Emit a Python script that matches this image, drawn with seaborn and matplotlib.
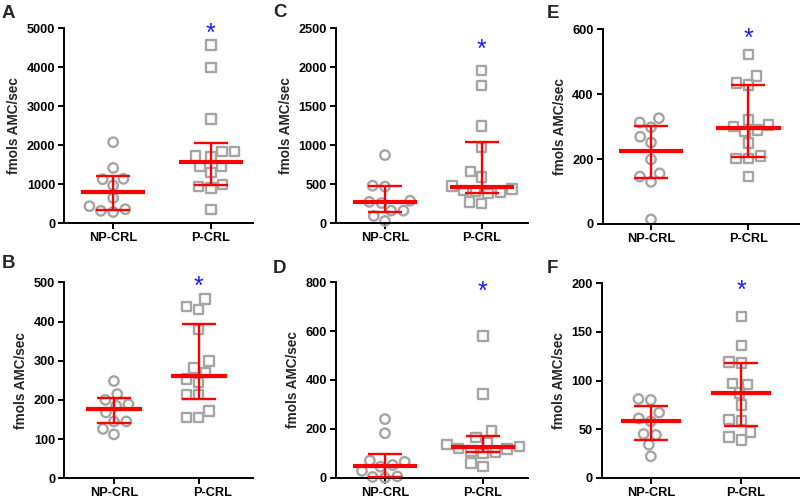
import numpy as np
import pandas as pd
import matplotlib
matplotlib.use('Agg')
import matplotlib.pyplot as plt
from matplotlib.transforms import Bbox, TransformedBbox, ScaledTranslation
import seaborn as sns

groups = ['NP-CRL', 'P-CRL']

A_np = [2080, 1420, 1130, 970, 1140, 650, 360, 290, 320, 440]
A_p = [4570, 3990, 2670, 1840, 1840, 1710, 1730, 1300, 1450, 1450, 940, 900, 1000, 360]
B_np = [248, 215, 200, 185, 189, 168, 145, 145, 126, 112]
B_p = [457, 431, 438, 380, 299, 270, 281, 253, 245, 214, 214, 172, 155, 155]
C_np = [875, 470, 482, 260, 275, 290, 162, 162, 94, 30]
C_p = [1960, 1770, 1250, 975, 665, 595, 480, 440, 420, 405, 395, 385, 275, 255]
D_np = [240, 182, 70, 65, 52, 45, 28, 5, 3, 0]
D_p = [580, 343, 191, 165, 145, 135, 128, 120, 118, 110, 105, 100, 60, 45]
E_np = [326, 298, 313, 269, 251, 199, 146, 130, 156, 14]
E_p = [523, 456, 435, 428, 320, 305, 300, 285, 290, 250, 202, 202, 210, 146]
F_np = [81, 80, 67, 61, 58, 45, 44, 34, 22]
F_p = [166, 136, 119, 118, 97, 96, 87, 75, 60, 59, 47, 39, 42]

panel_letters = ['A', 'B', 'C', 'D', 'E', 'F']
y_tops = [5000, 500, 2500, 800, 600, 200]
y_steps = [1000, 100, 500, 200, 200, 50]
star_y = [5000, 502, 2295, 782, 588, 198]
ylabel = 'fmols AMC/sec'

sns.set_style('ticks')
plt.rcParams['font.family'] = ['Liberation Sans', 'DejaVu Sans']

W, H = 800, 501
fig = plt.figure(figsize=(8, 5.01), dpi=100)

# layout in pixels: left, right, top, bottom ; xlim
geom = {
    'A': (64.3, 253, 28.3, 223.3, (-0.50, 1.43)),
    'B': (64.3, 253, 282.3, 478.3, (-0.585, 1.64)),
    'C': (336, 528, 28.3, 223.3, (-0.507, 1.48)),
    'D': (336, 528, 282.3, 477.7, (-0.50, 1.46)),
    'E': (602.7, 800, 29.3, 224, (-0.496, 1.53)),
    'F': (601.7, 800, 283.3, 477.7, (-0.543, 1.65)),
}
label_shift = {'B': 14, 'F': 4}
letter_pos = {'A': (2, 5), 'B': (2, 255), 'C': (273, 4), 'D': (273, 260), 'E': (547, 5), 'F': (547, 260)}

data = {'A': (A_np, A_p), 'B': (B_np, B_p), 'C': (C_np, C_p),
        'D': (D_np, D_p), 'E': (E_np, E_p), 'F': (F_np, F_p)}

gray = '#a5a5a5'
red = '#ff0000'
blue = '#1a1aff'

for k, letter in enumerate(panel_letters):
    l, r, t, b, xl = geom[letter]
    ax = fig.add_axes([l / W, 1 - b / H, (r - l) / W, (b - t) / H])
    npv, pv = data[letter]
    df = pd.DataFrame({'group': [groups[0]] * len(npv) + [groups[1]] * len(pv),
                       'value': list(npv) + list(pv)})
    clip = TransformedBbox(Bbox([[0, -0.1], [1, 1.08]]), ax.transAxes)
    for grp, mk in zip(groups, ['o', 's']):
        sub = df[df['group'] == grp]
        n_before = len(ax.collections)
        sns.swarmplot(data=sub, x='group', y='value', order=groups, marker=mk,
                      size=6.8, color=gray, linewidth=0, ax=ax, zorder=2)
        for coll in ax.collections[n_before:]:
            coll.set_facecolor('none')
            coll.set_edgecolor(gray)
            coll.set_linewidth(1.7)
            coll.set_clip_on(True)
            coll.set_clip_box(clip)

    for i, vals in enumerate([npv, pv]):
        v = np.asarray(vals, dtype=float)
        med = np.median(v)
        q1, q3 = np.percentile(v, [25, 75], method='weibull')
        ax.hlines(med, i - 0.33, i + 0.33, color=red, lw=3.0, zorder=5)
        ax.errorbar(i, med, yerr=[[med - q1], [q3 - med]], fmt='none', ecolor=red,
                    elinewidth=1.7, capsize=12, capthick=1.7, zorder=5)

    ax.annotate('*', (1, star_y[k]), xytext=(0, -4), textcoords='offset points',
                color=blue, fontsize=18, ha='center', va='center',
                annotation_clip=False, zorder=6)

    ax.set_xlim(*xl)
    ax.set_ylim(0, y_tops[k])
    ax.set_yticks(np.arange(0, y_tops[k] + 1, y_steps[k]))
    ax.set_xticks([0, 1])
    ax.set_xticklabels(groups)
    ax.set_xlabel('')
    ax.set_ylabel(ylabel, fontsize=9.8, fontweight='bold', labelpad=4)
    sns.despine(ax=ax)
    for s in ['left', 'bottom']:
        ax.spines[s].set_linewidth(1.4)
        ax.spines[s].set_color('black')
    ax.tick_params(width=1.4, length=4, labelsize=9.2, colors='black', pad=2.5)
    for lbl in ax.get_xticklabels() + ax.get_yticklabels():
        lbl.set_fontweight('bold')
    if letter in label_shift:
        lbl = ax.get_xticklabels()[1]
        lbl.set_transform(lbl.get_transform() +
                          ScaledTranslation(label_shift[letter] / 100, 0, fig.dpi_scale_trans))

    lx, ly = letter_pos[letter]
    fig.text(lx / W, 1 - ly / H, letter, fontsize=13.5, fontweight='bold',
             ha='left', va='top')

fig.savefig('out.png', dpi=100)
